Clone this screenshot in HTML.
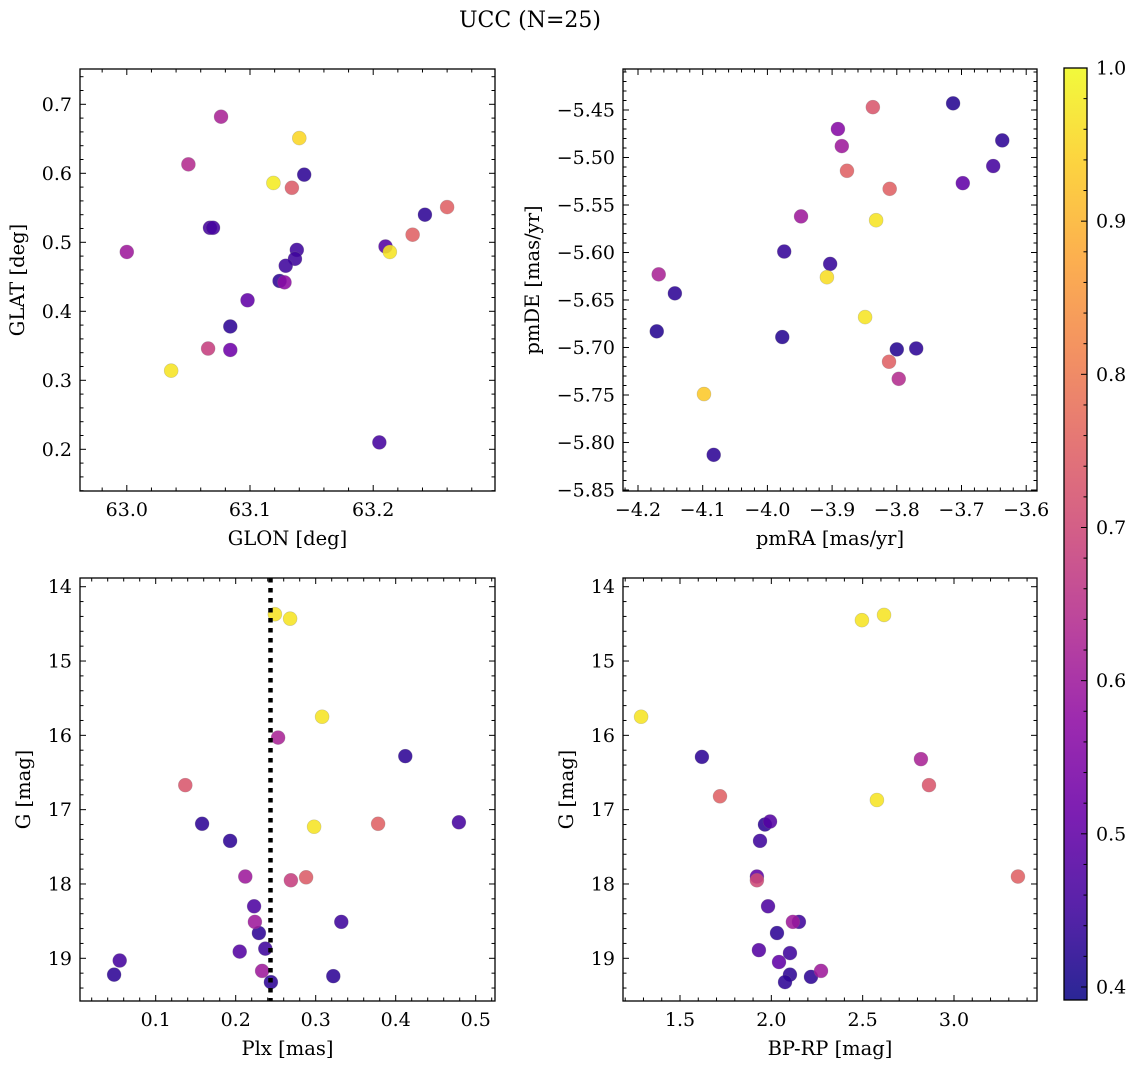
<!DOCTYPE html>
<html><head><meta charset="utf-8"><style>
html,body{margin:0;padding:0;background:#fff;}
svg{display:block;font-family:"DejaVu Serif","Liberation Serif",serif;}
</style></head><body>
<svg id="fig" width="1136" height="1068" viewBox="0 0 1136 1068" xmlns="http://www.w3.org/2000/svg">
<text x="530" y="27" font-size="22" text-anchor="middle">UCC (N=25)</text>
</svg>
<script>
// ---- data ----
const glon = [63.0765,63.140,63.050,63.119,63.134,63.144,63.260,63.242,63.0675,63.070,63.210,63.232,63.2135,63.000,63.138,63.1365,63.129,63.124,63.128,63.098,63.084,63.066,63.084,63.036,63.205];
const glat = [0.682,0.651,0.613,0.586,0.579,0.598,0.551,0.540,0.521,0.521,0.494,0.511,0.486,0.486,0.489,0.476,0.466,0.444,0.442,0.416,0.378,0.346,0.344,0.314,0.210];
const probA = [0.62,0.95,0.64,0.98,0.74,0.43,0.75,0.43,0.46,0.46,0.48,0.75,0.97,0.60,0.45,0.45,0.45,0.43,0.57,0.50,0.43,0.68,0.52,0.97,0.46];
const pmra = [-3.837,-3.713,-3.891,-3.637,-3.885,-3.877,-3.651,-3.698,-3.811,-3.948,-3.832,-3.974,-3.903,-3.908,-4.168,-4.143,-3.849,-4.171,-3.977,-3.800,-3.770,-3.812,-3.797,-4.098,-4.083];
const pmde = [-5.447,-5.443,-5.470,-5.482,-5.488,-5.514,-5.509,-5.527,-5.533,-5.562,-5.566,-5.599,-5.612,-5.626,-5.623,-5.643,-5.668,-5.683,-5.689,-5.702,-5.701,-5.715,-5.733,-5.749,-5.813];
const probB = [0.73,0.42,0.56,0.43,0.60,0.75,0.46,0.50,0.75,0.60,0.97,0.44,0.44,0.96,0.62,0.43,0.97,0.42,0.42,0.42,0.43,0.75,0.64,0.93,0.43];
const plx = [0.249,0.268,0.308,0.253,0.412,0.137,0.158,0.298,0.378,0.479,0.193,0.212,0.269,0.288,0.223,0.332,0.224,0.229,0.205,0.237,0.055,0.233,0.048,0.322,0.244];
const gmagC = [14.37,14.43,15.75,16.03,16.28,16.67,17.19,17.23,17.19,17.17,17.42,17.90,17.95,17.91,18.30,18.51,18.51,18.66,18.91,18.87,19.03,19.17,19.22,19.24,19.32];
const probC = [0.97,0.97,0.97,0.62,0.43,0.73,0.43,0.97,0.75,0.46,0.43,0.60,0.68,0.74,0.47,0.45,0.60,0.43,0.48,0.45,0.46,0.60,0.43,0.43,0.43];
const bprp = [2.617,2.496,1.287,1.620,2.819,2.863,1.719,2.578,1.993,1.938,1.921,1.921,3.350,1.982,2.118,2.151,2.031,1.932,2.102,2.042,2.272,2.102,2.217,2.075,1.965];
const gmagD = [14.38,14.45,15.75,16.29,16.32,16.67,16.82,16.87,17.16,17.42,17.90,17.95,17.90,18.30,18.51,18.51,18.66,18.89,18.93,19.05,19.17,19.22,19.25,19.32,17.20];
const probD = [0.97,0.97,0.97,0.43,0.62,0.73,0.75,0.97,0.48,0.45,0.50,0.70,0.75,0.47,0.60,0.45,0.43,0.48,0.45,0.50,0.60,0.43,0.43,0.43,0.43];
const plxLine = [0.2435];
const cbTicks = [0.4,0.5,0.6,0.7,0.8,0.9,1.0];

const NS="http://www.w3.org/2000/svg";
const svg=document.getElementById('fig');
const TF=19, LF=19.5;
function el(tag,attrs,parent){const e=document.createElementNS(NS,tag);for(const k in attrs)e.setAttribute(k,attrs[k]);(parent||svg).appendChild(e);return e;}
const stops=[[13,8,135],[65,4,157],[106,0,168],[143,13,164],[177,42,144],[204,71,120],[225,100,98],[242,132,75],[252,166,54],[252,206,37],[240,249,33]];
const CMIN=0.3915,CMAX=1.0;
function plasma(v){let t=(v-CMIN)/(CMAX-CMIN);t=Math.max(0,Math.min(1,t))*10;const i=Math.min(9,Math.floor(t)),f=t-i;const a=stops[i],b=stops[i+1];return 'rgb('+a.map((c,j)=>Math.round(c+(b[j]-c)*f)).join(',')+')';}
function lin(v0,p0,v1,p1){return v=>p0+(v-v0)*(p1-p0)/(v1-v0);}
function fmt(v,d){let s=v.toFixed(d);return s.replace('-','\u2212');}

function panel(cfg){
  const g=el('g',{});
  
  
  const {L,R,T,B}=cfg;
  const sx=lin(cfg.xa[0],cfg.xa[1],cfg.xb[0],cfg.xb[1]);
  const sy=lin(cfg.ya[0],cfg.ya[1],cfg.yb[0],cfg.yb[1]);
  const inv=(p,a,b)=>a[0]+(p-a[1])*(b[0]-a[0])/(b[1]-a[1]);
  const xlo=Math.min(inv(L,cfg.xa,cfg.xb),inv(R,cfg.xa,cfg.xb)),xhi=Math.max(inv(L,cfg.xa,cfg.xb),inv(R,cfg.xa,cfg.xb));
  const ylo=Math.min(inv(T,cfg.ya,cfg.yb),inv(B,cfg.ya,cfg.yb)),yhi=Math.max(inv(T,cfg.ya,cfg.yb),inv(B,cfg.ya,cfg.yb));
  const clipId='c'+cfg.name;
  const cp=el('clipPath',{id:clipId},g);el('rect',{x:L,y:T,width:R-L,height:B-T},cp);
  const pts=el('g',{'clip-path':'url(#'+clipId+')'},g);
  
  
  const idx=cfg.x.map((_,i)=>i).sort((a,b)=>cfg.c[a]-cfg.c[b]);
  idx.forEach(i=>{const c=el('circle',{cx:sx(cfg.x[i]),cy:sy(cfg.y[i]),r:7,fill:plasma(cfg.c[i]),'fill-opacity':0.88,stroke:'#777','stroke-opacity':0.35,'stroke-width':0.6},pts);
    
    });
  if(cfg.vline){cfg.vline.forEach(v=>{const ln=el('line',{x1:sx(v),x2:sx(v),y1:T,y2:B,stroke:'#000','stroke-width':4.5,'stroke-dasharray':'4.5 5.5'},pts);
    
    });}
  el('rect',{x:L,y:T,width:R-L,height:B-T,fill:'none',stroke:'#000','stroke-width':1.3},g);
  const eps=1e-9;
  function ticks(step,lo,hi){const a=[];for(let v=Math.ceil(lo/step-eps)*step;v<=hi+eps;v+=step)a.push(+v.toFixed(6));return a;}
  ticks(cfg.xminor,xlo,xhi).forEach(v=>{const p=sx(v);const major=Math.abs(v/cfg.xmajor-Math.round(v/cfg.xmajor))<1e-4;const len=major?6:3.5;
    el('line',{x1:p,x2:p,y1:B,y2:B-len,stroke:'#000','stroke-width':1},g);el('line',{x1:p,x2:p,y1:T,y2:T+len,stroke:'#000','stroke-width':1},g);
    if(major){const t=el('text',{x:p,y:B+25,'font-size':TF,'text-anchor':'middle'},g);t.textContent=fmt(v,cfg.xdec);
      
      }});
  ticks(cfg.yminor,ylo,yhi).forEach(v=>{const p=sy(v);const major=Math.abs(v/cfg.ymajor-Math.round(v/cfg.ymajor))<1e-4;const len=major?6:3.5;
    el('line',{x1:L,x2:L+len,y1:p,y2:p,stroke:'#000','stroke-width':1},g);el('line',{x1:R,x2:R-len,y1:p,y2:p,stroke:'#000','stroke-width':1},g);
    if(major){const t=el('text',{x:L-8,y:p+6.5,'font-size':TF,'text-anchor':'end'},g);t.textContent=fmt(v,cfg.ydec);
      
      }});
  const xl=el('text',{x:(L+R)/2,y:B+54,'font-size':LF,'text-anchor':'middle'},g);xl.textContent=cfg.xlabel;
  
  
  const yx=cfg.ylx;const yc=(T+B)/2;
  const yl=el('text',{x:yx,y:yc,'font-size':LF,'text-anchor':'middle',transform:'rotate(-90 '+yx+' '+yc+')'},g);yl.textContent=cfg.ylabel;
  
  
}

panel({name:'glon-glat-panel',L:80,R:495,T:69,B:491,xa:[63.0,126.8],xb:[63.2,373.2],ya:[0.7,104.3],yb:[0.2,449.3],
  x:glon,y:glat,c:probA,xmajor:0.1,xminor:0.02,ymajor:0.1,yminor:0.02,xdec:1,ydec:1,xlabel:'GLON [deg]',ylabel:'GLAT [deg]',ylx:24});
panel({name:'pm-panel',L:623,R:1037,T:69,B:491,xa:[-4.2,638],xb:[-3.6,1026.2],ya:[-5.45,110],yb:[-5.85,490],
  x:pmra,y:pmde,c:probB,xmajor:0.1,xminor:0.02,ymajor:0.05,yminor:0.01,xdec:1,ydec:2,xlabel:'pmRA [mas/yr]',ylabel:'pmDE [mas/yr]',ylx:539});
panel({name:'plx-g-panel',L:80,R:495,T:578,B:1001,xa:[0.1,155.7],xb:[0.5,475.7],ya:[14,586.7],yb:[19,958.3],
  x:plx,y:gmagC,c:probC,xmajor:0.1,xminor:0.02,ymajor:1,yminor:0.2,xdec:1,ydec:0,xlabel:'Plx [mas]',ylabel:'G [mag]',ylx:30,vline:plxLine});
panel({name:'cmd-panel',L:623,R:1037,T:578,B:1001,xa:[1.5,680],xb:[3.0,954],ya:[14,586.7],yb:[19,958.3],
  x:bprp,y:gmagD,c:probD,xmajor:0.5,xminor:0.1,ymajor:1,yminor:0.2,xdec:1,ydec:0,xlabel:'BP-RP [mag]',ylabel:'G [mag]',ylx:573});

// colorbar
(function(){
  const g=el('g',{});
  
  
  const L=1064,R=1087,T=68,B=1000;
  const defs=el('defs',{},g);
  const lg=el('linearGradient',{id:'cbg',x1:0,y1:1,x2:0,y2:0},defs);
  stops.forEach((s,i)=>{el('stop',{offset:(i/10),'stop-color':'rgb('+s.join(',')+')'},lg);});
  el('rect',{x:L,y:T,width:R-L,height:B-T,fill:'url(#cbg)','fill-opacity':0.88},g);
  el('rect',{x:L,y:T,width:R-L,height:B-T,fill:'none',stroke:'#000','stroke-width':1.3},g);
  const sc=lin(CMIN,B,CMAX,T);
  for(let v=0.40;v<=1.0001;v+=0.02){const p=sc(v);const major=Math.abs(v*10-Math.round(v*10))<1e-4;
    el('line',{x1:R,x2:R-(major?6:3.5),y1:p,y2:p,stroke:'#000','stroke-width':1},g);}
  cbTicks.forEach(v=>{const t=el('text',{x:R+9,y:sc(v)+6.5,'font-size':TF},g);t.textContent=v.toFixed(1);
    
    });
})();
</script>
</body></html>
